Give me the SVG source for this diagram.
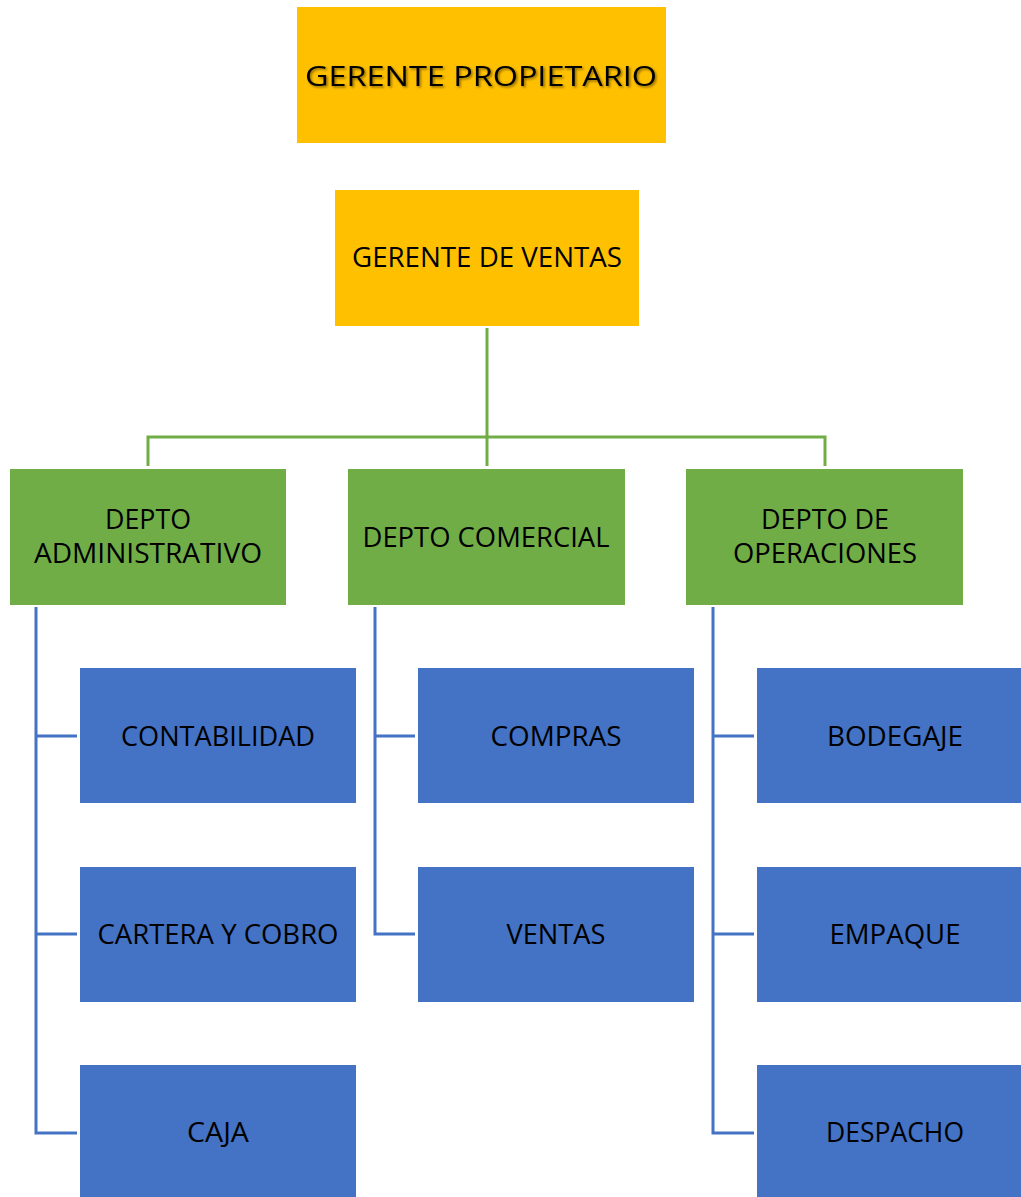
<svg xmlns="http://www.w3.org/2000/svg" width="1021" height="1197" viewBox="0 0 1021 1197">
<style>
text{font-family:"Open Sans","Liberation Sans",Arial,sans-serif;font-size:28px;fill:#000;text-anchor:middle}
.gold{fill:#FFC000}
.green{fill:#70AD47}
.blue{fill:#4472C4}
.cg{fill:none;stroke:#70AD47;stroke-width:3}
.cb{fill:none;stroke:#4472C4;stroke-width:3}
</style>
<defs>
<filter id="sh" x="-10%" y="-30%" width="120%" height="160%">
<feDropShadow dx="1.5" dy="1.5" stdDeviation="1.2" flood-color="#000" flood-opacity="0.45"/>
</filter>
</defs>
<rect width="1021" height="1197" fill="#fff"/>
<g id="connectors">
<path class="cg" d="M487 328V437M148 466V437H825V466M487 437V466"/>
<path class="cb" d="M36 607V1133H77M36 736H77M36 934H77"/>
<path class="cb" d="M375 607V934H415M375 736H415"/>
<path class="cb" d="M713 607V1133H754M713 736H754M713 934H754"/>
</g>
<g id="gerente-propietario"><rect class="gold" x="297" y="7" width="369" height="136"/><text x="481" y="86" font-size="31" textLength="352" lengthAdjust="spacingAndGlyphs" filter="url(#sh)">GERENTE PROPIETARIO</text></g>
<g id="gerente-ventas"><rect class="gold" x="335" y="190" width="304" height="136"/><text x="487" y="267" textLength="270" lengthAdjust="spacingAndGlyphs">GERENTE DE VENTAS</text></g>
<g id="depto-administrativo"><rect class="green" x="10" y="469" width="276" height="136"/><text x="148" y="529" textLength="86" lengthAdjust="spacingAndGlyphs">DEPTO</text><text x="148" y="563" textLength="228" lengthAdjust="spacingAndGlyphs">ADMINISTRATIVO</text></g>
<g id="depto-comercial"><rect class="green" x="348" y="469" width="277" height="136"/><text x="486" y="547" textLength="247" lengthAdjust="spacingAndGlyphs">DEPTO COMERCIAL</text></g>
<g id="depto-operaciones"><rect class="green" x="686" y="469" width="277" height="136"/><text x="825" y="529" textLength="128" lengthAdjust="spacingAndGlyphs">DEPTO DE</text><text x="825" y="563" textLength="184" lengthAdjust="spacingAndGlyphs">OPERACIONES</text></g>
<g id="contabilidad"><rect class="blue" x="80" y="668" width="276" height="135"/><text x="218" y="746" textLength="194" lengthAdjust="spacingAndGlyphs">CONTABILIDAD</text></g>
<g id="cartera"><rect class="blue" x="80" y="867" width="276" height="135"/><text x="218" y="944" textLength="241" lengthAdjust="spacingAndGlyphs">CARTERA Y COBRO</text></g>
<g id="caja"><rect class="blue" x="80" y="1065" width="276" height="135"/><text x="218" y="1142" textLength="62" lengthAdjust="spacingAndGlyphs">CAJA</text></g>
<g id="compras"><rect class="blue" x="418" y="668" width="276" height="135"/><text x="556" y="746" textLength="131" lengthAdjust="spacingAndGlyphs">COMPRAS</text></g>
<g id="ventas"><rect class="blue" x="418" y="867" width="276" height="135"/><text x="556" y="944" textLength="99" lengthAdjust="spacingAndGlyphs">VENTAS</text></g>
<g id="bodegaje"><rect class="blue" x="757" y="668" width="276" height="135"/><text x="895" y="746" textLength="136" lengthAdjust="spacingAndGlyphs">BODEGAJE</text></g>
<g id="empaque"><rect class="blue" x="757" y="867" width="276" height="135"/><text x="895" y="944" textLength="131" lengthAdjust="spacingAndGlyphs">EMPAQUE</text></g>
<g id="despacho"><rect class="blue" x="757" y="1065" width="276" height="135"/><text x="895" y="1142" textLength="138" lengthAdjust="spacingAndGlyphs">DESPACHO</text></g>
</svg>
